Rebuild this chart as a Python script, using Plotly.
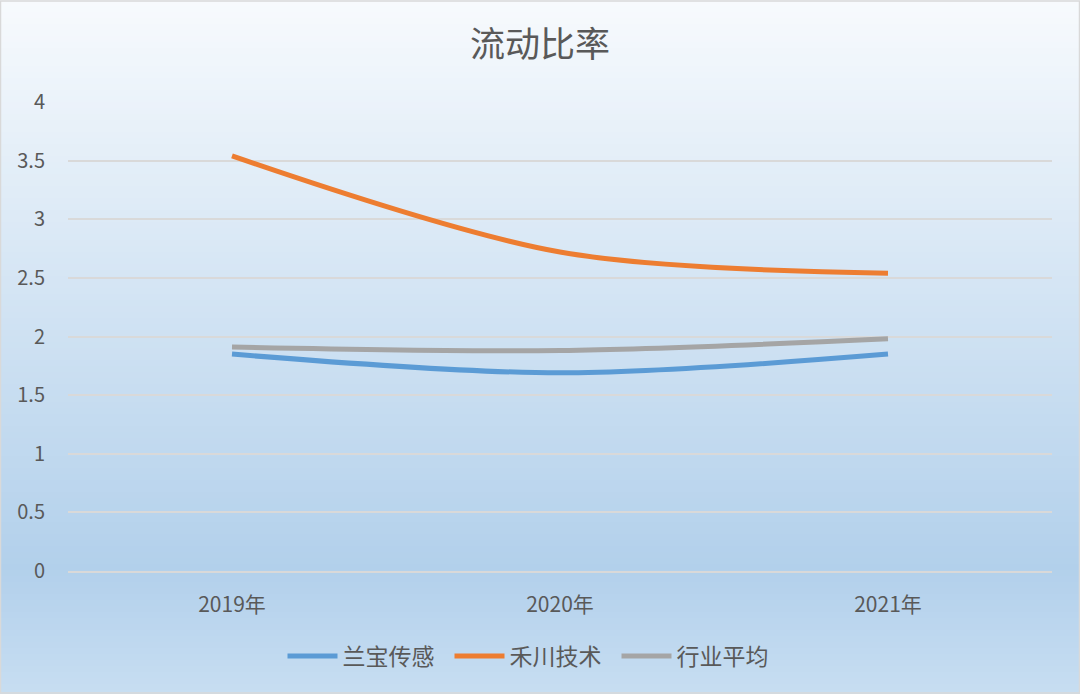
import plotly.graph_objects as go

# chart data
years = ["2019年", "2020年", "2021年"]
lanbao = [1.85, 1.69, 1.85]
hechuan = [3.54, 2.72, 2.54]
industry_avg = [1.91, 1.88, 1.98]

series = [
    ("兰宝传感", lanbao, "#5B9BD5"),
    ("禾川技术", hechuan, "#ED7D31"),
    ("行业平均", industry_avg, "#A5A5A5"),
]

W, H = 1080, 694
L, R, T, B = 68, 28, 102, 123
plot_w = W - L - R
plot_h = H - T - B

fig = go.Figure()
for name, vals, color in series:
    fig.add_trace(go.Scatter(
        x=years,
        y=vals,
        name=name,
        mode="lines",
        line=dict(color=color, width=5, shape="spline", smoothing=0.9),
    ))


def px_to_paper_y(p):
    return (H - B - p) / plot_h


def lerp(c1, c2, t):
    return tuple(round(a + (b - a) * t) for a, b in zip(c1, c2))


# background gradient: light at top, darkest near the axis, lighter at the bottom
top = (247, 250, 253)
mid = (178, 208, 235)
bot = (200, 222, 242)
shapes = []
step = 6
for p in range(0, H, step):
    if p <= 565:
        c = lerp(top, mid, p / 565)
    else:
        c = lerp(mid, bot, (p - 565) / (H - 565))
    shapes.append(dict(
        type="rect", xref="paper", yref="paper", layer="below",
        x0=-L / plot_w, x1=(W - L) / plot_w,
        y0=px_to_paper_y(min(p + step + 1, H)), y1=px_to_paper_y(p),
        fillcolor="rgb(%d,%d,%d)" % c, line=dict(width=0),
    ))
# outer border
shapes.append(dict(
    type="rect", xref="paper", yref="paper", layer="above",
    x0=-L / plot_w + 0.0005, x1=(W - L) / plot_w - 0.0005,
    y0=px_to_paper_y(H - 1), y1=px_to_paper_y(1),
    fillcolor="rgba(0,0,0,0)", line=dict(color="#D9D9D9", width=1.5),
))

fig.update_layout(
    width=W,
    height=H,
    margin=dict(l=L, r=R, t=T, b=B, pad=0),
    paper_bgcolor="#DCE9F6",
    plot_bgcolor="rgba(0,0,0,0)",
    font=dict(family="Noto Sans CJK SC, Noto Sans, sans-serif", color="#595959"),
    title=dict(
        text="流动比率",
        x=0.5, xanchor="center",
        y=1 - 45 / H, yanchor="middle",
        font=dict(size=35, color="#595959"),
    ),
    shapes=shapes,
    showlegend=True,
    legend=dict(
        orientation="h",
        x=0.5 - 27 / plot_w, xanchor="center",
        y=px_to_paper_y(656), yanchor="middle",
        font=dict(size=23, color="#595959"),
        bgcolor="rgba(0,0,0,0)",
        itemwidth=50,
        entrywidth=102,
        entrywidthmode="pixels",
    ),
)

fig.update_xaxes(
    type="category",
    range=[-0.5, 2.5],
    showgrid=False,
    showline=True,
    linecolor="#D9D9D9",
    linewidth=1.5,
    ticks="",
    tickfont=dict(size=21, color="#595959"),
    ticklabelstandoff=14,
)
fig.update_yaxes(
    range=[0, 4],
    dtick=0.5,
    showgrid=True,
    gridcolor="#D9D9D9",
    gridwidth=1.5,
    zeroline=False,
    showline=False,
    ticks="",
    tickfont=dict(size=20, color="#595959"),
    ticklabelstandoff=22,
)

fig.write_html(
    "out.html",
    config={"displayModeBar": False},
    post_script="document.body.style.margin='0';",
)
